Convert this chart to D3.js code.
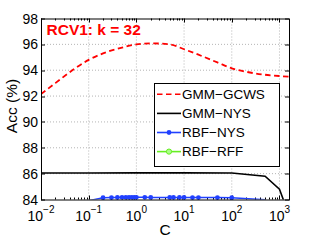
<!DOCTYPE html>
<html>
<head>
<meta charset="utf-8">
<script src="https://cdn.jsdelivr.net/npm/d3@7"></script>
<style>
  body { margin: 0; background: #fff; }
  text { font-family: "Liberation Sans", Arial, sans-serif; }
</style>
</head>
<body>
<div id="chart"></div>
<script>
// ---- data ----
var gcwsC   = [0.01, 0.02, 0.05, 0.1, 0.2, 0.5, 1, 2, 5, 10, 20, 50, 100, 200, 500, 1000, 1585];
var gcwsAcc = [92.15, 93.0, 94.1, 94.8, 95.3, 95.75, 96.0, 96.08, 96.0, 95.62, 95.2, 94.6, 94.15, 93.88, 93.65, 93.55, 93.5];

var gmmNysC   = [0.01, 0.1, 1, 10, 100, 500, 1000, 1585];
var gmmNysAcc = [86.05, 86.05, 86.06, 86.06, 86.05, 85.8, 84.8, 82.8];

var rbfC      = [0.1, 0.2, 0.3, 0.4, 0.5, 0.6, 0.7, 0.8, 0.9, 1, 1.5, 2, 5, 6, 8, 10, 15, 20, 50, 100, 500];
var rbfNysAcc = [83.9, 84.14, 84.15, 84.16, 84.17, 84.17, 84.17, 84.17, 84.17, 84.17, 84.17, 84.16, 84.16, 84.16, 84.16, 84.16, 84.15, 84.15, 84.15, 84.14, 83.98];
var rbfRffAcc = [79.8, 80.4, 80.9, 81.2, 81.4, 81.5, 81.6, 81.7, 81.7, 81.8, 81.8, 81.8, 81.7, 81.7, 81.6, 81.6, 81.5, 81.4, 81.2, 81.0, 80.5];

var yTicks = [84, 86, 88, 90, 92, 94, 96, 98];
var xTicks = [1e-2, 1e-1, 1e0, 1e1, 1e2, 1e3];
var xExp   = ["\u22122", "\u22121", "0", "1", "2", "3"];
var legendNames = ["GMM\u2212GCWS", "GMM\u2212NYS", "RBF\u2212NYS", "RBF\u2212RFF"];

var width = 319, height = 240;
var margin = {left: 41, right: 30, top: 18.5, bottom: 40.5};
var iw = width - margin.left - margin.right,
    ih = height - margin.top - margin.bottom;

var svg = d3.select("#chart").append("svg")
  .attr("width", width).attr("height", height);

var g = svg.append("g").attr("transform", "translate(" + margin.left + "," + margin.top + ")");

var x = d3.scaleLog().domain([1e-2, Math.pow(10, 3.2)]).range([0, iw]);
var y = d3.scaleLinear().domain([84, 98]).range([ih, 0]);

// grid
g.append("g").selectAll("line.gx")
  .data(xTicks.slice(1))
  .enter().append("line")
  .attr("x1", function(d){ return x(d); }).attr("x2", function(d){ return x(d); })
  .attr("y1", 0).attr("y2", ih)
  .attr("stroke", "#b4b4b4").attr("stroke-dasharray", "1,2").attr("stroke-width", 1);
g.append("g").selectAll("line.gy")
  .data(yTicks.slice(1, -1))
  .enter().append("line")
  .attr("x1", 0).attr("x2", iw)
  .attr("y1", function(d){ return y(d); }).attr("y2", function(d){ return y(d); })
  .attr("stroke", "#b4b4b4").attr("stroke-dasharray", "1,2").attr("stroke-width", 1);

// minor + major ticks (inward, on all four sides)
var minor = [];
for (var e = -2; e <= 3; e++) {
  for (var m = 2; m <= 9; m++) {
    var v = m * Math.pow(10, e);
    if (v < x.domain()[1]) minor.push(v);
  }
}
var ticks = g.append("g").attr("stroke", "#000").attr("stroke-width", 1);
minor.forEach(function(d){
  var px = Math.round(x(d)) + 0.5;
  ticks.append("line").attr("x1", px).attr("x2", px).attr("y1", ih).attr("y2", ih - 2);
  ticks.append("line").attr("x1", px).attr("x2", px).attr("y1", 0).attr("y2", 2);
});
xTicks.forEach(function(d){
  var px = Math.round(x(d)) + 0.5;
  ticks.append("line").attr("x1", px).attr("x2", px).attr("y1", ih).attr("y2", ih - 4);
  ticks.append("line").attr("x1", px).attr("x2", px).attr("y1", 0).attr("y2", 4);
});
yTicks.forEach(function(d){
  var py = Math.round(y(d)) + 0.5;
  ticks.append("line").attr("x1", 0).attr("x2", 4).attr("y1", py).attr("y2", py);
  ticks.append("line").attr("x1", iw).attr("x2", iw - 4).attr("y1", py).attr("y2", py);
});

// clip for lines
svg.append("defs").append("clipPath").attr("id", "clip")
  .append("rect").attr("x", 0).attr("y", 0).attr("width", iw).attr("height", ih);

function series(cs, vals) {
  return cs.map(function(c, i){ return {c: c, v: vals[i]}; });
}
var line = d3.line().x(function(d){ return x(d.c); }).y(function(d){ return y(d.v); });
var smooth = d3.line().curve(d3.curveMonotoneX)
  .x(function(d){ return x(d.c); }).y(function(d){ return y(d.v); });

var plot = g.append("g").attr("clip-path", "url(#clip)");

plot.append("path").datum(series(rbfC, rbfRffAcc))
  .attr("d", line).attr("fill", "none").attr("stroke", "#66ee22").attr("stroke-width", 1.6);
plot.append("path").datum(series(gmmNysC, gmmNysAcc))
  .attr("d", line).attr("fill", "none").attr("stroke", "#000").attr("stroke-width", 1.6);
plot.append("path").datum(series(rbfC, rbfNysAcc))
  .attr("d", line).attr("fill", "none").attr("stroke", "#2040ff").attr("stroke-width", 1.6);
plot.append("path").datum(series(gcwsC, gcwsAcc))
  .attr("d", smooth).attr("fill", "none").attr("stroke", "#ff0000")
  .attr("stroke-width", 1.8).attr("stroke-dasharray", "5.5,3.5");

// markers (only those inside the axes)
g.append("g").selectAll("circle.nys")
  .data(series(rbfC, rbfNysAcc).filter(function(d){ return d.v >= 84; }))
  .enter().append("circle")
  .attr("cx", function(d){ return x(d.c); }).attr("cy", function(d){ return y(d.v); })
  .attr("r", 2.4).attr("fill", "#2040ff");
g.append("g").selectAll("circle.rff")
  .data(series(rbfC, rbfRffAcc).filter(function(d){ return d.v >= 84; }))
  .enter().append("circle")
  .attr("cx", function(d){ return x(d.c); }).attr("cy", function(d){ return y(d.v); })
  .attr("r", 2.6).attr("fill", "#aaff88").attr("stroke", "#66ee22");

// box
g.append("rect").attr("x", 0.5).attr("y", 0.5).attr("width", iw).attr("height", ih)
  .attr("fill", "none").attr("stroke", "#000").attr("stroke-width", 1);

// tick labels
g.append("g").selectAll("text.yl")
  .data(yTicks).enter().append("text")
  .attr("x", -3).attr("y", function(d){ return y(d); })
  .attr("dy", "0.36em").attr("text-anchor", "end")
  .style("font-size", "14px").text(function(d){ return d; });

var xl = g.append("g").selectAll("text.xl")
  .data(xTicks).enter().append("text")
  .attr("x", function(d){ return x(d); }).attr("y", ih + 21)
  .attr("text-anchor", "middle").style("font-size", "14px");
xl.append("tspan").text("10");
xl.append("tspan").attr("dy", -8).style("font-size", "10px")
  .text(function(d, i){ return xExp[i]; });

// axis labels
svg.append("text").attr("x", margin.left + x(Math.pow(10, 0.6)) ).attr("y", 235)
  .attr("text-anchor", "middle").style("font-size", "15.5px").text("C");
svg.append("text").attr("transform", "translate(17,106) rotate(-90)")
  .attr("text-anchor", "middle").style("font-size", "15.5px").text("Acc (%)");

// title
g.append("text").attr("x", 5.5).attr("y", 16)
  .attr("fill", "#ff0000").style("font-weight", "bold").style("font-size", "15.5px")
  .text("RCV1: k = 32");

// legend
var lg = svg.append("g").attr("transform", "translate(154,83)");
lg.append("rect").attr("x", 0.5).attr("y", 0.5).attr("width", 125).attr("height", 83)
  .attr("fill", "#fff").attr("stroke", "#000").attr("stroke-width", 1);
var legendColors = ["#ff0000", "#000", "#2040ff", "#66ee22"];
var rows = lg.selectAll("g.row").data(legendNames).enter().append("g")
  .attr("transform", function(d, i){ return "translate(0," + (11.3 + i * 19.1) + ")"; });
rows.append("line").attr("x1", 3).attr("x2", 27).attr("y1", 0).attr("y2", 0)
  .attr("stroke", function(d, i){ return legendColors[i]; })
  .attr("stroke-width", 1.6)
  .attr("stroke-dasharray", function(d, i){ return i === 0 ? "5.5,3.5" : null; });
rows.filter(function(d, i){ return i === 2; }).append("circle")
  .attr("cx", 15).attr("cy", 0).attr("r", 2.4).attr("fill", "#2040ff");
rows.filter(function(d, i){ return i === 3; }).append("circle")
  .attr("cx", 15).attr("cy", 0).attr("r", 2.6).attr("fill", "#aaff88").attr("stroke", "#66ee22");
rows.append("text").attr("x", 28).attr("y", 0).attr("dy", "0.36em")
  .style("font-size", "13.5px").text(function(d){ return d; });
</script>
</body>
</html>
